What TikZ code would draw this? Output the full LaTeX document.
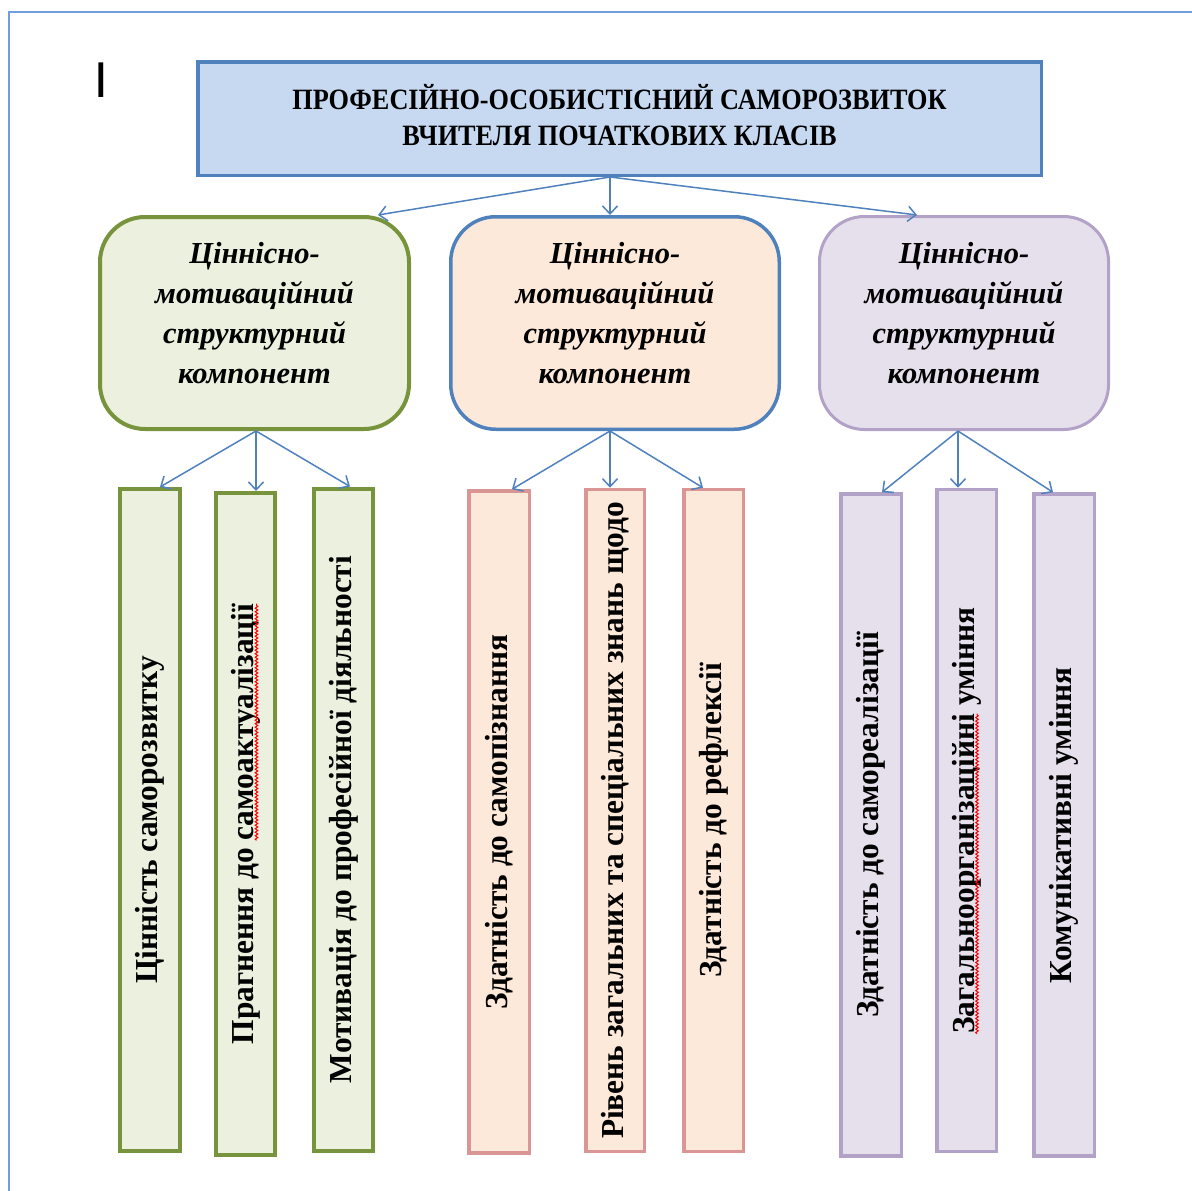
\documentclass[tikz,border=0pt]{standalone}
\usepackage{fontspec}
\setmainfont{Liberation Serif}
\newfontfamily\condfont[FakeStretch=0.89]{Liberation Serif}
\newfontfamily\barfam[FakeStretch=0.98]{Liberation Serif}
\newfontfamily\cursorfont{Carlito}
\usetikzlibrary{arrows.meta,decorations.pathmorphing}
\newcommand\barfont{\barfam\bfseries\fontsize{32}{38}\selectfont}
\newlength\wfullA \newlength\wpreA \newlength\wfullB \newlength\wpreB
\definecolor{lineblue}{HTML}{4F81BD}
\definecolor{framecol}{HTML}{6F9FDC}
\definecolor{titlefill}{HTML}{C6D9F1}
\definecolor{grnline}{HTML}{77933C}
\definecolor{grnfill}{HTML}{EBF1DE}
\definecolor{orfill}{HTML}{FDE9D9}
\definecolor{orline}{HTML}{D99694}
\definecolor{purline}{HTML}{B3A2C7}
\definecolor{purfill}{HTML}{E5E0EC}
\tikzset{
  titlebox/.style={draw=lineblue, fill=titlefill, line width=3.5pt, inner sep=0pt,
    minimum width=843.5pt, minimum height=113.5pt},
  titletext/.style={align=center, inner sep=0pt,
    font=\condfont\bfseries\fontsize{29.5}{36}\selectfont},
  midbox/.style={rounded corners=45pt, inner sep=0pt},
  midtext/.style={align=center, inner sep=0pt,
    font=\bfseries\itshape\fontsize{30.5}{40}\selectfont},
  barbox/.style={inner sep=0pt, minimum width=59.5pt, minimum height=662pt, font=\barfont},
  conn/.style={draw=lineblue, line width=1.5pt, -{Straight Barb[length=8pt,width=15pt]}},
  spellwave/.style={draw=red, line width=1pt, decorate,
    decoration={snake, amplitude=1.3pt, segment length=3.5pt}}
}
\begin{document}
\settowidth\wfullA{\barfont Прагнення до самоактуалізації}
\settowidth\wpreA{\barfont Прагнення до }
\settowidth\wfullB{\barfont Загальноорганізаційні уміння}
\settowidth\wpreB{\barfont Загальноорганізаційні}
\begin{tikzpicture}[x=1pt,y=-1pt]
\useasboundingbox (0,0) rectangle (1192,1191);
\draw[framecol, line width=1.5pt] (9,1191) -- (9,12) -- (1192,12);
\node[font=\cursorfont\fontsize{54}{54}\selectfont, inner sep=0pt] (cur) at (101,80) {I};

\node[titlebox] (t) at (619.5,118.5) {};
\node[titletext] (tt) at ([yshift=3pt]t.center) {ПРОФЕСІЙНО-ОСОБИСТІСНИЙ САМОРОЗВИТОК\\ВЧИТЕЛЯ ПОЧАТКОВИХ КЛАСІВ};

\node[midbox, draw=grnline, fill=grnfill, line width=4pt, minimum width=309pt, minimum height=212pt] (g) at (254.5,323) {};
\node[midbox, draw=lineblue, fill=orfill, line width=3.5pt, minimum width=328.5pt, minimum height=212.5pt] (o) at (615,323) {};
\node[midbox, draw=purline, fill=purfill, line width=3pt, minimum width=289pt, minimum height=213pt] (p) at (964,323) {};
\node[midtext] (gt) at ([yshift=10pt]g.center) {Ціннісно-\\мотиваційний\\структурний\\компонент};
\node[midtext] (ot) at ([yshift=10pt]o.center) {Ціннісно-\\мотиваційний\\структурний\\компонент};
\node[midtext] (pt) at ([yshift=10pt]p.center) {Ціннісно-\\мотиваційний\\структурний\\компонент};

% bars
\node[barbox, draw=grnline, fill=grnfill, line width=4pt, minimum width=60pt] (g1) at (150,820) {\rotatebox{90}{Цінність саморозвитку}};
\node[barbox, draw=grnline, fill=grnfill, line width=4pt] (g2) at (245.5,824) {\rotatebox{90}{Прагнення до самоактуалізації}};
\node[barbox, draw=grnline, fill=grnfill, line width=4pt] (g3) at (343.5,819.5) {\rotatebox{90}{Мотивація до професійної діяльності}};
\node[barbox, draw=orline, fill=orfill, line width=3.5pt, minimum width=60.5pt] (o1) at (499,822) {\rotatebox{90}{Здатність до самопізнання}};
\node[barbox, draw=orline, fill=orfill, line width=3.5pt, minimum width=58.5pt] (o2) at (615,820.5) {\rotatebox{90}{Рівень загальних та спеціальних знань щодо}};
\node[barbox, draw=orline, fill=orfill, line width=3.5pt] (o3) at (713.5,820.5) {\rotatebox{90}{Здатність до рефлексії}};
\node[barbox, draw=purline, fill=purfill, line width=3.5pt, minimum width=60.5pt] (p1) at (871,825) {\rotatebox{90}{Здатність до самореалізації}};
\node[barbox, draw=purline, fill=purfill, line width=3.5pt] (p2) at (966.5,820.5) {\rotatebox{90}{Загальноорганізаційні уміння}};
\node[barbox, draw=purline, fill=purfill, line width=3.5pt, minimum width=60.5pt] (p3) at (1064,825) {\rotatebox{90}{Комунікативні уміння}};

% spell-check underlines
\draw[spellwave] ([xshift=11pt, yshift={-0.5*\wfullA+\wpreA}]g2.center) -- ([xshift=11pt, yshift={0.5*\wfullA}]g2.center);
\draw[spellwave] ([xshift=10.5pt, yshift={-0.5*\wfullB}]p2.center) -- ([xshift=10.5pt, yshift={-0.5*\wfullB+\wpreB}]p2.center);

% connectors
\coordinate (ts) at ([xshift=-9.5pt]t.south);
\draw[conn] (ts) -- ([xshift=123.5pt]g.north);
\draw[conn] (ts) -- ([xshift=-5pt]o.north);
\draw[conn] (ts) -- ([xshift=-47pt]p.north);

\coordinate (gs) at ([xshift=1.5pt]g.south);
\draw[conn] (gs) -- ([xshift=10pt]g1.north);
\draw[conn] (gs) -- ([xshift=10.5pt]g2.north);
\draw[conn] (gs) -- ([xshift=6.5pt]g3.north);

\coordinate (os) at ([xshift=-5pt]o.south);
\draw[conn] (os) -- ([xshift=13pt]o1.north);
\draw[conn] (os) -- ([xshift=-5pt]o2.north);
\draw[conn] (os) -- ([xshift=-10.5pt]o3.north);

\coordinate (ps) at ([xshift=-6pt]p.south);
\draw[conn] (ps) -- ([xshift=11pt]p1.north);
\draw[conn] (ps) -- ([xshift=-8.5pt]p2.north);
\draw[conn] (ps) -- ([xshift=-11pt]p3.north);
\end{tikzpicture}
\end{document}
